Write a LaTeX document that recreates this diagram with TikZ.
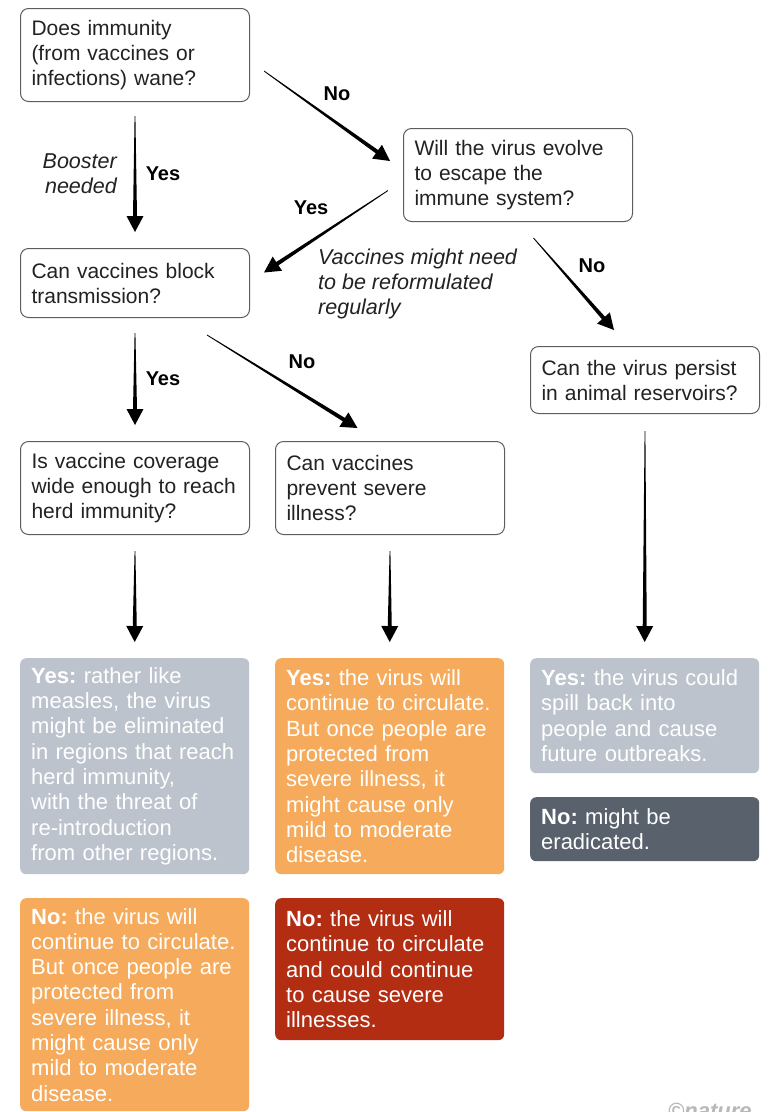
\documentclass[tikz,border=0pt]{standalone}
\usepackage{fontspec}
\setmainfont{Liberation Sans}
\usetikzlibrary{calc}
\frenchspacing
\definecolor{qborder}{HTML}{5E5E5E}
\definecolor{qtext}{HTML}{222222}
\definecolor{rgray}{HTML}{BCC3CC}
\definecolor{rorange}{HTML}{F5AB5B}
\definecolor{rdark}{HTML}{59616D}
\definecolor{rred}{HTML}{B22D12}
\definecolor{arrowcol}{HTML}{000000}
\definecolor{logogray}{HTML}{B8B8B8}
\newcommand\qfont{\fontsize{21}{25}\selectfont}
\newcommand\rfont{\fontsize{22}{25.3}\selectfont}
\newcommand\lfont{\fontsize{20}{25}\selectfont\bfseries}
\newcommand\ifont{\fontsize{21.5}{25}\selectfont\itshape}
\newcommand\taper[2]{%
  \coordinate (tpH) at ($(#2)!16pt!(#1)$);
  \fill[arrowcol] ($(#1)!0.4pt!90:(#2)$) -- ($(tpH)!2pt!90:(#2)$) -- ($(tpH)!8.5pt!90:(#2)$) -- (#2) -- ($(tpH)!8.5pt!-90:(#2)$) -- ($(tpH)!2pt!-90:(#2)$) -- ($(#1)!0.4pt!-90:(#2)$) -- cycle;}
\begin{document}
\frenchspacing
\begin{tikzpicture}[x=1pt,y=-1pt,
  qbox/.style={draw=qborder, line width=1pt, rounded corners=8pt, anchor=north west,
    align=left, text width=207pt, inner xsep=11pt, inner ysep=0pt, font=\qfont, text=qtext},
  rbox/.style={rounded corners=6pt, anchor=north west, align=left, text width=207pt,
    inner xsep=11pt, inner ysep=0pt, font=\rfont, text=white},
  lab/.style={font=\lfont, text=black, inner sep=0pt},
  ilab/.style={font=\ifont, text=qtext, inner sep=0pt}]
\path[use as bounding box, clip] (0,0) rectangle (769,1112);
\fill[white] (0,0) rectangle (769,1112);
% question boxes
\node[qbox, minimum height=93pt] (A) at (20,8) {Does immunity\\(from vaccines or\\infections) wane?};
\node[qbox, minimum height=93pt] (B) at (403,128) {Will the virus evolve\\to escape the\\immune system?};
\node[qbox, minimum height=69pt] (C) at (20,248) {Can vaccines block\\transmission?};
\node[qbox, minimum height=67pt] (D) at (530,346) {Can the virus persist\\in animal reservoirs?};
\node[qbox, minimum height=93pt] (E) at (20,441) {Is vaccine coverage\\wide enough to reach\\herd immunity?};
\node[qbox, minimum height=93pt] (F) at (275,441) {Can vaccines\\prevent severe\\illness?};
% result boxes
\node[rbox, fill=rgray, minimum height=216pt] (G1) at (20,658) {\textbf{Yes:} rather like\\measles, the virus\\might be eliminated\\in regions that reach\\herd immunity,\\with the threat of\\re-introduction\\from other regions.};
\node[rbox, fill=rorange, minimum height=216pt] (G2) at (275,658) {\textbf{Yes:} the virus will\\continue to circulate.\\But once people are\\protected from\\severe illness, it\\might cause only\\mild to moderate\\disease.};
\node[rbox, fill=rgray, minimum height=115pt] (G3) at (530,658) {\textbf{Yes:} the virus could\\spill back into\\people and cause\\future outbreaks.};
\node[rbox, fill=rdark, minimum height=64pt] (G4) at (530,797) {\textbf{No:} might be\\eradicated.};
\node[rbox, fill=rorange, minimum height=213pt] (G5) at (20,898) {\textbf{No:} the virus will\\continue to circulate.\\But once people are\\protected from\\severe illness, it\\might cause only\\mild to moderate\\disease.};
\node[rbox, fill=rred, minimum height=142pt] (G6) at (275,898) {\textbf{No:} the virus will\\continue to circulate\\and could continue\\to cause severe\\illnesses.};
% connector end points
\coordinate (a1) at ($(A.south)+(0,14)$);
\coordinate (c0) at ($(C.north)+(0,-16)$);
\coordinate (a2) at ($(A.east)+(14,16)$);
\coordinate (b0) at ($(B.west)+(-13,-14)$);
\coordinate (b1) at ($(B.west)+(-15,15.5)$);
\coordinate (c1) at ($(C.east)+(14,-10.5)$);
\coordinate (b2) at ($(B.south)+(15.5,16)$);
\coordinate (d0) at ($(D.north)+(-31,-16)$);
\coordinate (c2) at ($(C.south)+(0,15)$);
\coordinate (e0) at ($(E.north)+(0,-16)$);
\coordinate (c3) at ($(C.south)+(72,17)$);
\coordinate (f0) at ($(F.north)+(-32.5,-13)$);
\coordinate (e1) at ($(E.south)+(0,16)$);
\coordinate (g10) at ($(G1.north)+(0,-16)$);
\coordinate (f1) at ($(F.south)+(0,16)$);
\coordinate (g20) at ($(G2.north)+(0,-16)$);
\coordinate (d1) at ($(D.south)+(0,17)$);
\coordinate (g30) at ($(G3.north)+(0,-16)$);
% connectors
\taper{a1}{c0}
\taper{a2}{b0}
\taper{b1}{c1}
\taper{b2}{d0}
\taper{c2}{e0}
\taper{c3}{f0}
\taper{e1}{g10}
\taper{f1}{g20}
\taper{d1}{g30}
% labels
\node[lab] (l1) at (163,174) {Yes};
\node[ilab, anchor=east, align=right] (l2) at (117,173.5) {Booster\\needed};
\node[lab] (l3) at (337,94) {No};
\node[lab] (l4) at (311,208) {Yes};
\node[ilab, anchor=west, align=left] (l5) at (318,284) {Vaccines might need\\to be reformulated\\regularly};
\node[lab] (l6) at (592,266) {No};
\node[lab] (l7) at (163,379) {Yes};
\node[lab] (l8) at (302,362) {No};
\node[font=\fontsize{22}{25}\selectfont\bfseries\itshape, text=logogray, anchor=north west, inner sep=0pt] (logo) at (668,1103) {©nature};
\end{tikzpicture}
\end{document}
